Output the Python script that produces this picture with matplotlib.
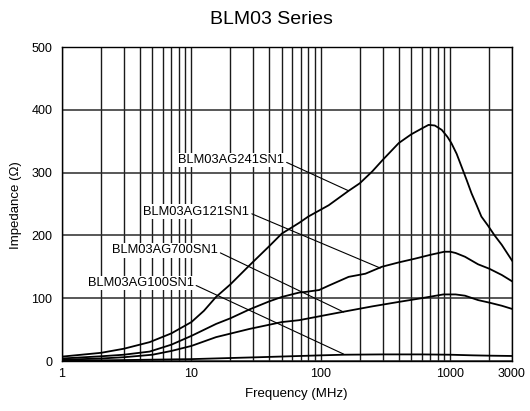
import numpy as np
import matplotlib
matplotlib.use("Agg")
import matplotlib.pyplot as plt
from matplotlib.ticker import FixedLocator, NullFormatter

plt.rcParams['font.family'] = ['Liberation Sans', 'DejaVu Sans']

# Impedance curves (frequency in MHz, impedance in ohm)
f_241 = [1, 2, 3, 4.75, 7, 10, 12.5, 15.5, 20, 28, 40, 50, 60, 68, 80, 115, 164, 200,
         250, 300, 400, 500, 600, 680, 760, 860, 950, 1020, 1120, 1220, 1340, 1460,
         1600, 1740, 1950, 2200, 2500, 3000]
z_241 = [7, 13, 19.5, 30, 44, 62, 80, 102, 122, 152, 183, 203, 213, 220, 230, 248, 271, 283,
         302, 320, 347, 361, 370, 376, 375, 368, 357, 347, 330, 310, 288, 267,
         248, 230, 216, 200, 185, 160]

f_121 = [1, 2, 3, 4.75, 7, 10, 15.5, 20, 28, 40, 50, 68, 76, 97, 115, 164, 221,
         296, 400, 535, 700, 900, 1000, 1100, 1300, 1640, 2000, 2500, 3000]
z_121 = [4, 7.5, 10, 15, 26, 40, 59, 68, 82, 95, 102, 109, 110, 113, 120, 134, 139,
         150, 157, 163, 169, 174, 174, 172, 166, 154, 147, 137, 127]

f_700 = [1, 2, 3, 5, 7, 10, 15.5, 28, 50, 68, 115, 164, 250, 398, 600, 883,
         1100, 1300, 1640, 2000, 2500, 3000]
z_700 = [2, 4, 6, 10, 16, 24, 38, 51, 62, 65, 74, 80, 87, 94, 100, 106,
         106, 104, 97, 93, 88, 83]

f_100 = [1, 3, 10, 33, 100, 150, 300, 600, 1000, 1500, 2000, 3000]
z_100 = [0.5, 1.5, 3, 6, 9, 10, 10.5, 10.5, 10, 9, 8.5, 8]

# labels: name, text anchor (right end), point on curve
names = ['BLM03AG241SN1', 'BLM03AG121SN1', 'BLM03AG700SN1', 'BLM03AG100SN1']
text_at = [(52, 320), (28, 238), (16, 176), (10.4, 124)]
point_at = [(164, 271), (288, 148), (150, 78), (150, 11)]

x_ticks = [1, 10, 100, 1000, 3000]
y_ticks = [0, 100, 200, 300, 400, 500]

fig = plt.figure(figsize=(5.3, 4.11), dpi=100)
ax = fig.add_axes([62 / 530, 50 / 411, 450 / 530, 314 / 411])

for f, z in [(f_241, z_241), (f_121, z_121), (f_700, z_700), (f_100, z_100)]:
    ax.plot(f, z, color='black', lw=1.3, zorder=3)

ax.set_xscale('log')
ax.set_xlim(1, 3000)
ax.set_ylim(0, 500)

# grid: every 1..9 step per decade plus 2000
minor = [m * 10 ** d for d in range(0, 4) for m in range(2, 10) if m * 10 ** d < 3000]
ax.xaxis.set_major_locator(FixedLocator(x_ticks))
ax.xaxis.set_minor_locator(FixedLocator(minor))
ax.xaxis.set_minor_formatter(NullFormatter())
ax.set_xticklabels([str(t) for t in x_ticks])
ax.set_yticks(y_ticks)
ax.grid(True, which='both', axis='x', color='#1a1a1a', lw=1.0)
ax.grid(True, which='major', axis='y', color='#2a2a2a', lw=1.1)
ax.tick_params(which='both', length=0, labelsize=9)
ax.tick_params(axis='y', pad=7)
ax.tick_params(axis='x', pad=5)
for s in ax.spines.values():
    s.set_color('black')
    s.set_linewidth(1.0)

for name, t, p in zip(names, text_at, point_at):
    ax.annotate(name, xy=p, xytext=t, ha='right', va='center', fontsize=9.3,
                bbox=dict(boxstyle='square,pad=0.1', fc='white', ec='none'),
                arrowprops=dict(arrowstyle='-', lw=0.8, color='black',
                                relpos=(1, 0.4), shrinkA=1, shrinkB=0),
                zorder=4)

fig.text(271 / 530, 1 - 24 / 411, 'BLM03 Series', ha='center', va='baseline', fontsize=14)
fig.text(296 / 530, 1 - 397 / 411, 'Frequency (MHz)', ha='center', va='baseline', fontsize=9.5)
fig.text(16 / 530, 1 - 205 / 411, 'Impedance (Ω)', ha='center', va='center',
         rotation=90, fontsize=9.5)

fig.savefig('out.png', dpi=100)
